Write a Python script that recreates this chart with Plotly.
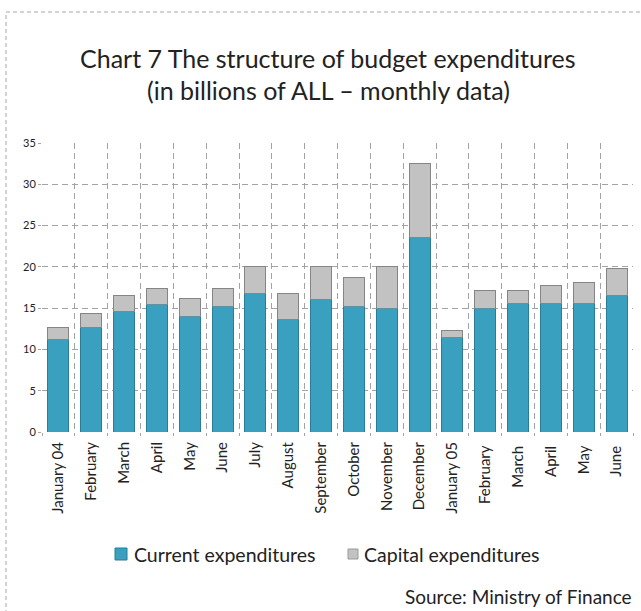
import plotly.graph_objects as go

months = ["January 04", "February", "March", "April", "May", "June", "July",
          "August", "September", "October", "November", "December",
          "January 05", "February ", "March ", "April ", "May ", "June "]
current = [11.2, 12.6, 14.6, 15.5, 14.0, 15.2, 16.8, 13.6, 16.0, 15.2, 14.9,
           23.5, 11.4, 14.9, 15.6, 15.6, 15.6, 16.5]
capital = [1.4, 1.7, 1.9, 1.9, 2.2, 2.2, 3.2, 3.2, 4.0, 3.5, 5.1,
           9.0, 0.9, 2.2, 1.5, 2.2, 2.5, 3.3]
y_ticks = [0, 5, 10, 15, 20, 25, 30, 35]

CUR_COLOR = "#39a0bf"
CAP_COLOR = "#c2c2c2"
TEXT = "#222222"
FONT = "Lato"

W, H = 641, 611
L, R, T, B = 42, 8, 143, 179
pw, ph = W - L - R, H - T - B


def px_x(x):
    return (x - L) / pw


def px_y(y):
    return (H - B - y) / ph


fig = go.Figure()
fig.add_trace(go.Bar(
    x=months, y=current, name="Current expenditures",
    marker=dict(color=CUR_COLOR, line=dict(color="#2b7d96", width=1)),
))
fig.add_trace(go.Bar(
    x=months, y=capital, name="Capital expenditures",
    marker=dict(color=CAP_COLOR, line=dict(color="#858585", width=1)),
))

fig.update_layout(
    width=W, height=H,
    margin=dict(l=L, r=R, t=T, b=B, pad=0),
    barmode="stack", bargap=0.36,
    plot_bgcolor="white", paper_bgcolor="white",
    font=dict(family=FONT, color=TEXT),
    showlegend=False,
)

grid = dict(showgrid=True, gridcolor="#a3a3a3", griddash="6px,4px",
            gridwidth=1, ticks="outside", ticklen=3, tickcolor="#a3a3a3",
            showline=False, zeroline=False)

fig.update_xaxes(type="category", tickson="boundaries", tickangle=-90,
                 ticklabelstandoff=6,
                 tickfont=dict(size=15, family=FONT, color=TEXT), **grid)
fig.update_yaxes(range=[0, 35], tickvals=y_ticks,
                 tickfont=dict(size=11, family=FONT, color=TEXT), **grid)

# two-line heading
fig.add_annotation(text="Chart 7 The structure of budget expenditures",
                   xref="paper", yref="paper", x=px_x(328), y=px_y(58),
                   xanchor="center", yanchor="middle", showarrow=False,
                   font=dict(size=25, family=FONT, color=TEXT))
fig.add_annotation(text="(in billions of ALL \u2013 monthly data)",
                   xref="paper", yref="paper", x=px_x(328), y=px_y(90),
                   xanchor="center", yanchor="middle", showarrow=False,
                   font=dict(size=25, family=FONT, color=TEXT))

# legend: swatch + label for each series
legend_items = [
    ("Current expenditures", CUR_COLOR, "#2b7d96", 115, 12, 132),
    ("Capital expenditures", CAP_COLOR, "#9a9a9a", 348, 10, 362),
]
LEG_Y = 554
for label, fill, edge, sx, size, tx in legend_items:
    fig.add_shape(type="rect", xref="paper", yref="paper",
                  x0=px_x(sx), x1=px_x(sx + size),
                  y0=px_y(LEG_Y + size / 2), y1=px_y(LEG_Y - size / 2),
                  fillcolor=fill, line=dict(color=edge, width=1))
    fig.add_annotation(text=label, xref="paper", yref="paper",
                       x=px_x(tx), y=px_y(LEG_Y), xanchor="left",
                       yanchor="middle", showarrow=False,
                       font=dict(size=19.5, family=FONT, color=TEXT))

fig.add_annotation(text="Source: Ministry of Finance",
                   xref="paper", yref="paper", x=px_x(403), y=px_y(596),
                   xanchor="left", yanchor="middle", showarrow=False,
                   font=dict(size=19, family=FONT, color=TEXT))

# dashed frame around the whole chart
fig.add_shape(type="rect", xref="paper", yref="paper",
              x0=px_x(6), x1=px_x(W + 20), y0=px_y(H + 20), y1=px_y(12),
              line=dict(color="#a8a8a8", width=1, dash="4px,3px"),
              fillcolor="rgba(0,0,0,0)", layer="below")

fig.write_html("out.html")
